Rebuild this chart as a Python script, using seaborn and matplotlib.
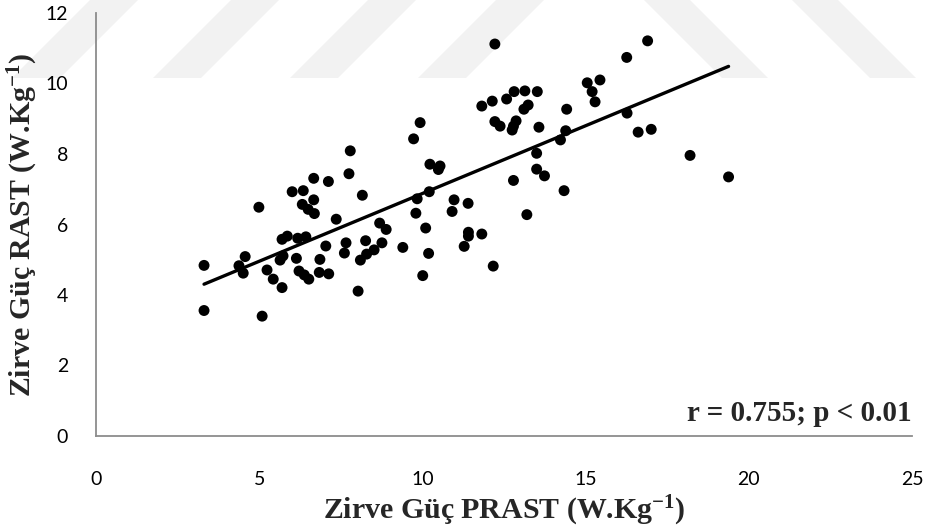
import numpy as np
import pandas as pd
import seaborn as sns
import matplotlib.pyplot as plt
from matplotlib.patches import Polygon

# Peak power, PRAST test (W/kg)
peak_prast = [
    3.31, 3.31, 4.38, 4.51, 4.57, 4.99, 5.09, 5.24, 5.43, 5.70,
    5.70, 5.86, 5.64, 5.73, 6.01, 6.35, 6.18, 6.43, 6.14, 6.22,
    6.38, 6.52, 6.32, 6.50, 6.69, 6.67, 6.67, 7.12, 6.86, 7.04,
    6.84, 7.13, 7.36, 7.75, 7.79, 7.66, 7.61, 8.03, 8.10, 8.29,
    8.52, 8.26, 8.16, 8.76, 8.69, 8.89, 9.40, 9.73, 9.93, 9.80,
    9.84, 10.21, 10.10, 10.19, 10.01, 10.23, 10.54, 10.49, 10.97, 10.91,
    11.40, 11.28, 11.41, 11.41, 11.82, 12.17, 11.82, 12.14, 12.22, 12.22,
    12.38, 12.58, 12.81, 12.79, 12.87, 12.79, 12.75, 13.14, 13.24, 13.11,
    13.52, 13.57, 13.50, 13.50, 13.74, 13.20, 14.42, 14.39, 14.23, 14.34,
    15.05, 15.44, 15.20, 15.29, 16.26, 16.90, 16.27, 16.61, 17.01, 18.20,
    19.38,
]

# Peak power, RAST test (W/kg)
peak_rast = [
    4.84, 3.56, 4.83, 4.62, 5.09, 6.49, 3.40, 4.71, 4.45, 4.21,
    5.58, 5.67, 4.99, 5.11, 6.93, 6.96, 5.61, 5.65, 5.04, 4.68,
    4.57, 4.45, 6.57, 6.43, 6.31, 6.70, 7.31, 7.22, 5.01, 5.39,
    4.64, 4.60, 6.15, 7.44, 8.09, 5.48, 5.19, 4.11, 4.99, 5.16,
    5.28, 5.54, 6.83, 5.48, 6.04, 5.86, 5.35, 8.43, 8.89, 6.32,
    6.73, 6.93, 5.90, 5.18, 4.55, 7.71, 7.66, 7.56, 6.70, 6.37,
    6.60, 5.38, 5.78, 5.67, 5.73, 4.82, 9.36, 9.50, 11.12, 8.92,
    8.79, 9.56, 9.77, 7.25, 8.94, 8.79, 8.68, 9.79, 9.39, 9.27,
    9.77, 8.76, 8.02, 7.57, 7.38, 6.28, 9.27, 8.66, 8.40, 6.96,
    10.02, 10.10, 9.77, 9.48, 10.74, 11.21, 9.16, 8.62, 8.70, 7.96,
    7.35,
]

x_ticks = [0, 5, 10, 15, 20, 25]
y_ticks = [0, 2, 4, 6, 8, 10, 12]
x_label = "Zirve Güç PRAST (W.Kg$^{-1}$)"
y_label = "Zirve Güç RAST (W.Kg$^{-1}$)"
corr_text = "r = 0.755; p < 0.01"

df = pd.DataFrame({"prast": peak_prast, "rast": peak_rast})

sns.set_theme(style="white")
plt.rcParams["mathtext.fontset"] = "custom"
plt.rcParams["mathtext.rm"] = "Liberation Serif:bold"
plt.rcParams["mathtext.it"] = "Liberation Serif:bold"
plt.rcParams["mathtext.bf"] = "Liberation Serif:bold"

W, H = 930, 527
fig = plt.figure(figsize=(W / 100, H / 100), dpi=100)
fig.patch.set_facecolor("white")

# faint diagonal watermark bands along the top edge (pixel coordinates)
bg = fig.add_axes([0, 0, 1, 1], zorder=-5)
bg.set_xlim(0, W)
bg.set_ylim(H, 0)
bg.axis("off")


def band(x0, x1, shift):
    pts = [(x0, 78), (x1, 78), (x1 + shift, 0), (x0 + shift, 0)]
    return Polygon(pts, closed=True, facecolor="#f2f2f2", edgecolor="none")


for x0 in [12, 153, 290, 418]:
    bg.add_patch(band(x0, x0 + 48, 78))
for x0 in [722, 870]:
    bg.add_patch(band(x0, x0 + 46, -78))

ax = fig.add_axes([96 / W, 1 - 436 / H, 816 / W, 423 / H], zorder=1)
ax.set_facecolor("none")

sns.regplot(data=df, x="prast", y="rast", ax=ax, ci=None, color="black",
            scatter_kws=dict(s=62, edgecolor="none", alpha=1),
            line_kws=dict(lw=2.4, color="black"))

ax.set_xlim(0, 25)
ax.set_ylim(0, 12)
ax.set_xticks(x_ticks)
ax.set_yticks(y_ticks)

for side in ["top", "right"]:
    ax.spines[side].set_visible(False)
for side in ["left", "bottom"]:
    ax.spines[side].set_color("#8c8c8c")
    ax.spines[side].set_linewidth(1.3)

ax.tick_params(axis="x", direction="out", length=7, width=1.3,
               color="#8c8c8c", pad=18, labelcolor="black")
ax.tick_params(axis="y", direction="out", length=7, width=1.3,
               color="#8c8c8c", pad=13, labelcolor="black")
for lbl in ax.get_xticklabels() + ax.get_yticklabels():
    lbl.set_fontfamily("Lato")
    lbl.set_fontsize(14)

ax.set_xlabel(x_label, family="Liberation Serif", weight="bold", fontsize=21.5)
ax.set_ylabel(y_label, family="Liberation Serif", weight="bold", fontsize=21.5)
ax.xaxis.set_label_coords(0.5, -0.137)
ax.yaxis.set_label_coords(-0.069, 0.5)

ax.text(25, 0.43, corr_text, ha="right", va="baseline",
        family="Liberation Serif", weight="bold", fontsize=21)

fig.savefig("out.png", dpi=100, facecolor="white")
